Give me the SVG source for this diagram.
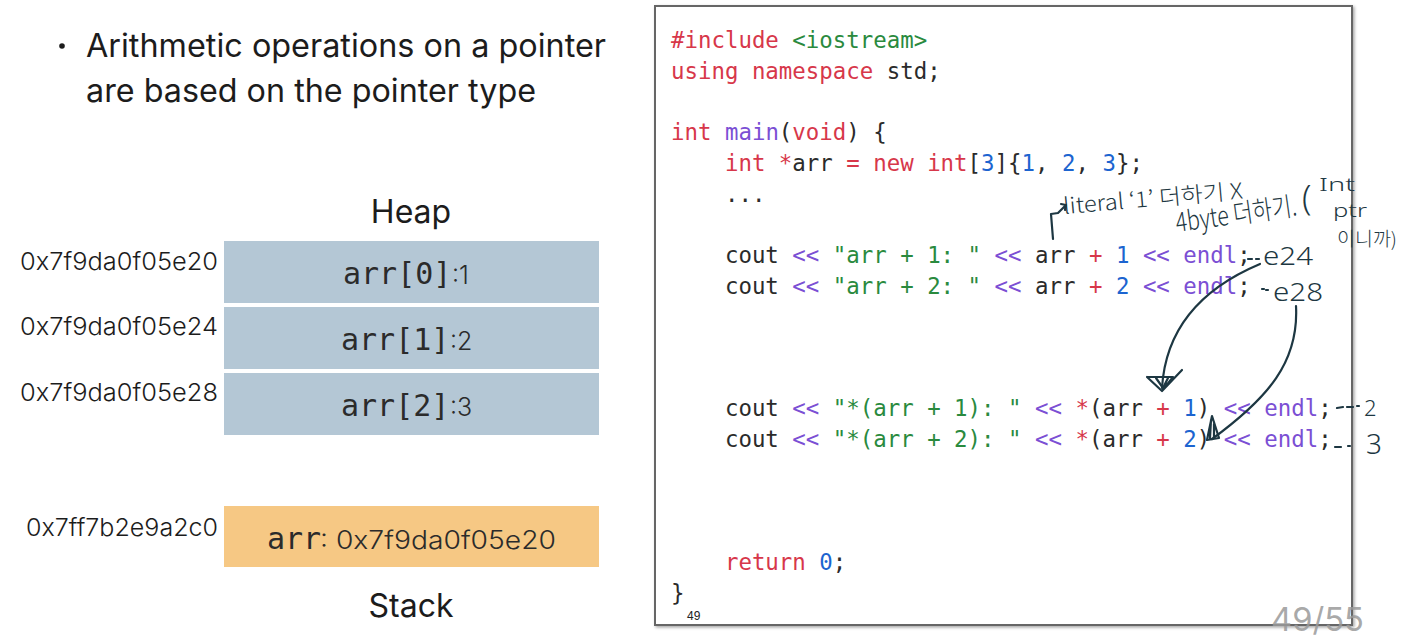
<svg xmlns="http://www.w3.org/2000/svg" width="1404" height="638" viewBox="0 0 1404 638">
<style>
.ui{font-family:Inter,"Liberation Sans",sans-serif;fill:#1c1c1c}
.addr{font-size:24px;font-weight:300}
.mono{font-family:"DejaVu Sans Mono","Liberation Mono",monospace;fill:#2b2b2b}
.val{font-family:Inter,"Liberation Sans",sans-serif;font-weight:300;fill:#2b2b2b}
.code{font-family:"DejaVu Sans Mono","Liberation Mono",monospace;font-size:22.4px;fill:#2b2b2b;white-space:pre}
.k{fill:#d7374a}.s{fill:#2a8a3e}.p{fill:#7b4fd4}.n{fill:#1c64d0}
.heap{fill:#b4c7d5}.stack{fill:#f6c884}
.hw{font-family:"Noto Sans CJK KR","Noto Sans",sans-serif;font-weight:300;fill:#1d3742}
.hl{font-family:"Noto Sans",sans-serif;font-weight:300;fill:#1d3742}
.ink{fill:none;stroke:#1d3742;stroke-width:2.2;stroke-linecap:round;stroke-linejoin:round}
</style>
<defs>
<filter id="sh" x="-5%" y="-5%" width="110%" height="110%">
<feDropShadow dx="1.5" dy="1.5" stdDeviation="1.5" flood-color="#000" flood-opacity="0.35"/>
</filter>
</defs>
<rect width="1404" height="638" fill="#fff"/>

<g id="bullet">
<circle cx="62" cy="46" r="2.8" fill="#1c1c1c"/>
<text class="ui" x="86" y="57" font-size="32" textLength="520" lengthAdjust="spacingAndGlyphs">Arithmetic operations on a pointer</text>
<text class="ui" x="86" y="102" font-size="32" textLength="450" lengthAdjust="spacingAndGlyphs">are based on the pointer type</text>
</g>

<g id="heap-label"><text class="ui" x="411" y="223" font-size="32" text-anchor="middle">Heap</text></g>

<g id="cell0">
<rect class="heap" x="224" y="241" width="375" height="62"/>
<text class="ui addr" x="20" y="270" textLength="198" lengthAdjust="spacingAndGlyphs">0x7f9da0f05e20</text>
<text class="mono" x="343" y="284" font-size="30">arr[0]</text>
<text class="val" x="452" y="284" font-size="25">:1</text>
</g>
<g id="cell1">
<rect class="heap" x="224" y="307" width="375" height="62"/>
<text class="ui addr" x="20" y="335" textLength="198" lengthAdjust="spacingAndGlyphs">0x7f9da0f05e24</text>
<text class="mono" x="341" y="350" font-size="30">arr[1]</text>
<text class="val" x="450" y="350" font-size="25">:2</text>
</g>
<g id="cell2">
<rect class="heap" x="224" y="373" width="375" height="62"/>
<text class="ui addr" x="20" y="401" textLength="198" lengthAdjust="spacingAndGlyphs">0x7f9da0f05e28</text>
<text class="mono" x="341" y="416" font-size="30">arr[2]</text>
<text class="val" x="450" y="416" font-size="25">:3</text>
</g>

<g id="stack-cell">
<rect class="stack" x="224" y="506" width="375" height="61"/>
<text class="ui addr" x="26" y="536" textLength="192" lengthAdjust="spacingAndGlyphs">0x7ff7b2e9a2c0</text>
<text class="mono" x="267" y="549" font-size="30">arr</text>
<text class="val" x="320" y="549" font-size="25" textLength="236" lengthAdjust="spacingAndGlyphs">: 0x7f9da0f05e20</text>
</g>
<g id="stack-label"><text class="ui" x="411" y="617" font-size="32" text-anchor="middle">Stack</text></g>

<g id="code-panel">
<rect x="655" y="6" width="697" height="619" fill="#fff" stroke="#666" stroke-width="2" filter="url(#sh)"/>
<text class="code" x="671" y="48" xml:space="preserve"><tspan class="k">#include</tspan> <tspan class="s">&lt;iostream&gt;</tspan></text>
<text class="code" x="671" y="78.7" xml:space="preserve"><tspan class="k">using namespace</tspan> std;</text>
<text class="code" x="671" y="140.1" xml:space="preserve"><tspan class="k">int</tspan> <tspan class="p">main</tspan>(<tspan class="k">void</tspan>) {</text>
<text class="code" x="671" y="170.8" xml:space="preserve">    <tspan class="k">int *</tspan>arr <tspan class="k">=</tspan> <tspan class="k">new int</tspan>[<tspan class="n">3</tspan>]{<tspan class="n">1</tspan>, <tspan class="n">2</tspan>, <tspan class="n">3</tspan>};</text>
<text class="code" x="671" y="201.5" xml:space="preserve">    ...</text>
<text class="code" x="671" y="262.9" xml:space="preserve">    cout <tspan class="p">&lt;&lt;</tspan> <tspan class="s">"arr + 1: "</tspan> <tspan class="p">&lt;&lt;</tspan> arr <tspan class="k">+</tspan> <tspan class="n">1</tspan> <tspan class="p">&lt;&lt;</tspan> <tspan class="p">endl</tspan>;</text>
<text class="code" x="671" y="293.6" xml:space="preserve">    cout <tspan class="p">&lt;&lt;</tspan> <tspan class="s">"arr + 2: "</tspan> <tspan class="p">&lt;&lt;</tspan> arr <tspan class="k">+</tspan> <tspan class="n">2</tspan> <tspan class="p">&lt;&lt;</tspan> <tspan class="p">endl</tspan>;</text>
<text class="code" x="671" y="416.4" xml:space="preserve">    cout <tspan class="p">&lt;&lt;</tspan> <tspan class="s">"*(arr + 1): "</tspan> <tspan class="p">&lt;&lt;</tspan> <tspan class="k">*</tspan>(arr <tspan class="k">+</tspan> <tspan class="n">1</tspan>) <tspan class="p">&lt;&lt;</tspan> <tspan class="p">endl</tspan>;</text>
<text class="code" x="671" y="447.1" xml:space="preserve">    cout <tspan class="p">&lt;&lt;</tspan> <tspan class="s">"*(arr + 2): "</tspan> <tspan class="p">&lt;&lt;</tspan> <tspan class="k">*</tspan>(arr <tspan class="k">+</tspan> <tspan class="n">2</tspan>) <tspan class="p">&lt;&lt;</tspan> <tspan class="p">endl</tspan>;</text>
<text class="code" x="671" y="569.9" xml:space="preserve">    <tspan class="k">return</tspan> <tspan class="n">0</tspan>;</text>
<text class="code" x="671" y="600.6" xml:space="preserve">}</text>
<text x="687" y="620" font-family="Liberation Sans,sans-serif" font-size="12" fill="#222">49</text>
</g>

<g id="page-number"><text x="1271" y="631" font-family="Inter,'Liberation Sans',sans-serif" font-size="33" fill="#9a9a9a" fill-opacity="0.85" textLength="93" lengthAdjust="spacingAndGlyphs">49/55</text></g>

<g id="annotations">
<text class="hw" font-size="22" transform="translate(1064,214) rotate(-5)" textLength="180" lengthAdjust="spacingAndGlyphs">literal ‘1’ 더하기 X</text>
<text class="hw" font-size="27" transform="translate(1177,232) rotate(-8)" textLength="122" lengthAdjust="spacingAndGlyphs">4byte 더하기.</text>
<text class="hl" font-size="34" x="1302" y="210">(</text>
<text class="hl" font-size="19" x="1319" y="191" textLength="36" lengthAdjust="spacingAndGlyphs">Int</text>
<text class="hl" font-size="19" x="1333" y="217" textLength="34" lengthAdjust="spacingAndGlyphs">ptr</text>
<text class="hw" font-size="19" x="1337" y="246" textLength="60" lengthAdjust="spacingAndGlyphs">이니까)</text>
<text class="hl" font-size="25" x="1263" y="265" textLength="50" lengthAdjust="spacingAndGlyphs">e24</text>
<text class="hl" font-size="25" x="1273" y="301" textLength="50" lengthAdjust="spacingAndGlyphs">e28</text>
<text class="hl" font-size="22" x="1364" y="416">2</text>
<text class="hl" font-size="28" x="1366" y="454">3</text>
<path class="ink" d="M1248,259 l4,0 M1256,259 l3,0 M1262,289 l2,0 M1266,290 l2,0 M1337,408 l6,-1 M1347,407 l6,0 M1357,406 l2,0 M1335,447 l6,0 M1348,446 l2,0" stroke-width="1.6"/>
</g>

<g id="connectors">
<path class="ink" d="M1053,239 L1051,214 L1058,213 L1066,205 M1061,204 L1066,205 L1065,210"/>
<path class="ink" d="M1260,264 C1210,285 1166,322 1162,388"/>
<path class="ink" d="M1147,377 L1162,391 L1182,370 M1148,377 L1173,377 L1162,391 M1156,378 L1163,388 L1168,378"/>
<path class="ink" d="M1296,306 C1299,362 1268,398 1212,439"/>
<path class="ink" d="M1207,440 L1212,416 L1219,438 Z M1211,420 L1210,438 M1214,424 L1214,438"/>
</g>
</svg>
